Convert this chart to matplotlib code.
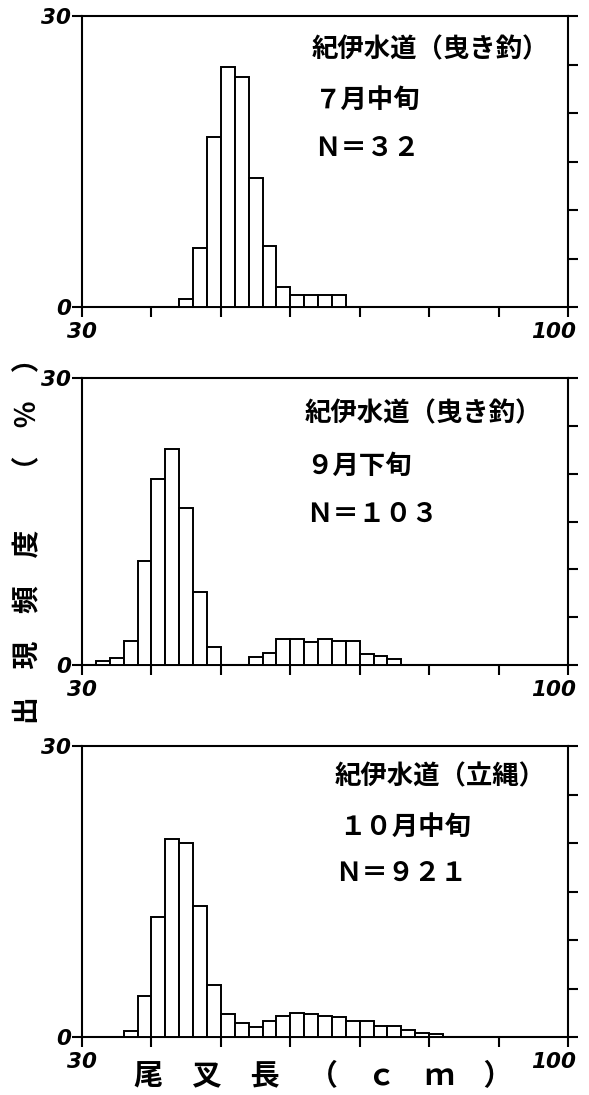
import matplotlib
matplotlib.use("Agg")
import matplotlib.pyplot as plt
from matplotlib.transforms import ScaledTranslation

# ---- data (percent frequency per 2 cm fork-length class; left edges in cm) ----
bin_width = 2

jul_left = [44, 46, 48, 50, 52, 54, 56, 58, 60, 62, 64, 66]
jul_pct = [0.8, 6.1, 17.5, 24.7, 23.7, 13.3, 6.3, 2.1, 1.2, 1.2, 1.2, 1.2]

sep_left = [32, 34, 36, 38, 40, 42, 44, 46, 48,
            54, 56, 58, 60, 62, 64, 66, 68, 70, 72, 74]
sep_pct = [0.4, 0.7, 2.5, 10.9, 19.4, 22.6, 16.4, 7.6, 1.9,
           0.8, 1.3, 2.7, 2.7, 2.4, 2.7, 2.5, 2.5, 1.15, 0.9, 0.6]

oct_left = [36, 38, 40, 42, 44, 46, 48, 50, 52, 54, 56, 58,
            60, 62, 64, 66, 68, 70, 72, 74, 76, 78, 80]
oct_pct = [0.6, 4.2, 12.4, 20.4, 20.0, 13.5, 5.4, 2.4, 1.4, 1.0, 1.6, 2.2,
           2.5, 2.4, 2.2, 2.05, 1.65, 1.6, 1.1, 1.1, 0.7, 0.45, 0.3]

titles = ["紀伊水道（曳き釣）", "紀伊水道（曳き釣）", "紀伊水道（立縄）"]
periods = ["７月中旬", "９月下旬", "１０月中旬"]
counts = ["Ｎ＝３２", "Ｎ＝１０３", "Ｎ＝９２１"]

x_ticks = [30, 40, 50, 60, 70, 80, 90, 100]
x_tick_labels = ["30", "", "", "", "", "", "", "100"]
y_ticks = [0, 30]
y_tick_labels = ["0", "30"]
y_minor = [5, 10, 15, 20, 25]

ylabel = "出　現　頻　度　   （　％　）"
xlabel = "尾　叉　長　（　ｃ　ｍ　）"

# ---- layout ----
cjk = ["Noto Sans CJK JP", "DejaVu Sans"]
W, H = 589, 1095
fig = plt.figure(figsize=(W / 100, H / 100), dpi=100)

left_px, right_px = 82, 568
panel_px = [(16, 307), (378, 665), (746, 1037)]
text_pos = [  # (x data, y data) for the three annotation lines
    [(63.1, 26.5), (63.6, 21.3), (63.4, 16.4)],
    [(62.1, 26.3), (62.3, 20.8), (62.3, 15.7)],
    [(66.4, 26.8), (67.0, 21.65), (66.4, 16.85)],
]

series = [(jul_left, jul_pct), (sep_left, sep_pct), (oct_left, oct_pct)]
tick_font = dict(family="DejaVu Sans", weight="bold", style="italic", size=15.5)

for i, ((lefts, pct), (top, bot)) in enumerate(zip(series, panel_px)):
    ax = fig.add_axes([left_px / W, 1 - bot / H,
                       (right_px - left_px) / W, (bot - top) / H])
    ax.bar(lefts, pct, width=bin_width, align="edge", color="white",
           edgecolor="black", linewidth=1.4, zorder=3)
    ax.set_xlim(30, 100)
    ax.set_ylim(0, 30)
    ax.set_xticks(x_ticks)
    ax.set_xticklabels(x_tick_labels, fontdict=tick_font)
    ax.set_yticks(y_ticks)
    ax.set_yticklabels(y_tick_labels, fontdict=tick_font)
    ax.set_yticks(y_minor, minor=True)
    ax.tick_params(axis="x", direction="out", length=7, width=1.5, pad=4)
    ax.tick_params(axis="y", which="major", direction="out", length=7,
                   width=1.5, pad=1, left=True, right=True)
    ax.tick_params(axis="y", which="minor", direction="out", length=7,
                   width=1.5, left=False, right=True)
    last = ax.get_xticklabels()[-1]
    last.set_horizontalalignment("right")
    last.set_transform(last.get_transform()
                       + ScaledTranslation(0.08, 0, fig.dpi_scale_trans))
    for sp in ax.spines.values():
        sp.set_linewidth(1.5)
    for (tx, ty), s in zip(text_pos[i], [titles[i], periods[i], counts[i]]):
        ax.text(tx, ty, s, ha="left", va="center", fontsize=19,
                family=cjk, weight="bold")

fig.text(28 / W, 1 - 724 / H, ylabel, rotation=90, rotation_mode="anchor",
         ha="left", va="center", fontsize=20, family=cjk, weight="bold")
fig.text(323 / W, 1 - 1076 / H, xlabel, ha="center", va="center",
         fontsize=21, family=cjk, weight="bold")

fig.savefig("out.png", dpi=100)
